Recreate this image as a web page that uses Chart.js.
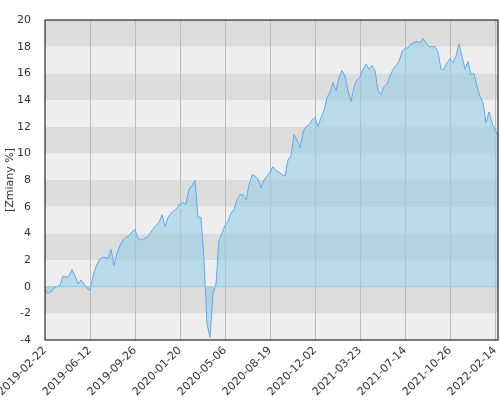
<!DOCTYPE html>
<html><head><script src="https://cdn.jsdelivr.net/npm/chart.js@4"></script>
<style>body{margin:0;background:#fff}#w{width:500px;height:400px}</style></head>
<body><div id="w"><canvas id="c"></canvas></div>
<script>
const tickDates=["2019-02-22","2019-06-12","2019-09-26","2020-01-20","2020-05-06","2020-08-19","2020-12-02","2021-03-23","2021-07-14","2021-10-26","2022-02-14"];
const values=[-0.3,-0.5,-0.4,-0.1,0.0,0.1,0.8,0.7,0.8,1.3,0.8,0.2,0.5,0.2,-0.1,-0.3,
0.8,1.5,2.0,2.2,2.2,2.1,2.8,1.6,2.5,3.1,3.5,3.7,3.8,4.1,4.3,3.6,3.5,3.6,3.7,4.0,4.3,4.6,4.8,5.4,4.5,5.2,5.5,5.7,5.9,6.2,6.3,6.2,7.3,7.6,8.0,5.2,5.2,2.0,-2.8,-3.8,-0.5,0.2,3.5,4.0,4.6,
4.9,5.5,5.8,6.5,6.9,6.9,6.5,7.6,8.4,8.3,8.1,7.4,8.0,8.3,8.6,9.0,8.7,8.6,8.4,8.3,9.5,9.8,11.4,11.0,10.4,11.6,12.0,12.1,12.5,12.7,12.0,12.7,13.2,14.2,14.6,15.3,14.7,15.7,16.2,15.8,14.7,13.9,15.0,15.5,15.7,16.3,16.7,16.3,16.6,16.2,14.7,14.4,15.0,15.2,15.8,16.3,16.6,16.9,17.6,17.9,17.9,18.2,18.3,18.4,18.3,18.6,18.3,18.0,18.0,18.0,17.6,16.3,16.3,16.8,17.1,16.8,17.3,18.2,17.3,16.3,16.9,15.9,16.0,15.0,14.3,13.8,12.3,13.1,12.3,11.7,11.4];
const labels=values.map((v,i)=>i%15===0?(tickDates[i/15]||""):"");
const bands={id:'bands',beforeDraw(ch){const {ctx,chartArea:a,scales:{y}}=ch;ctx.save();
for(let k=-2;k<10;k++){ctx.fillStyle=(Math.abs(k)%2===1)?'#dcdcdc':'#eeeeee';const t=y.getPixelForValue(2*k+2),b=y.getPixelForValue(2*k);ctx.fillRect(a.left,t,a.right-a.left,b-t);}
ctx.restore();},afterDraw(ch){const {ctx,chartArea:a,scales:{y}}=ch;ctx.save();ctx.strokeStyle='#8ccbe0';ctx.lineWidth=1;const z=y.getPixelForValue(0);ctx.beginPath();ctx.moveTo(a.left,z);ctx.lineTo(a.right,z);ctx.stroke();
ctx.strokeStyle='#000';ctx.strokeRect(a.left,a.top,a.right-a.left,a.bottom-a.top);ctx.restore();}};
new Chart(document.getElementById('c'),{type:'line',data:{labels,datasets:[{data:values,borderColor:'#5aaaf0',borderWidth:1,backgroundColor:'rgba(150,205,230,0.6)',fill:'origin',pointRadius:0,tension:0}]},
options:{responsive:true,maintainAspectRatio:false,animation:false,layout:{padding:{top:20,right:2,left:0}},
plugins:{legend:{display:false},tooltip:{enabled:false}},
scales:{x:{offset:false,grid:{color:c=>(c.index%15===0&&c.index>0&&c.index<151)?'#bbbbbb':'rgba(0,0,0,0)',drawTicks:false},border:{display:false},
ticks:{autoSkip:false,maxRotation:45,minRotation:45,color:'#333',font:{size:11,family:'DejaVu Sans'},padding:4},afterFit(s){s.height=60;s.paddingLeft=0;s.paddingRight=0;}},
y:{min:-4,max:20,grid:{display:false},border:{display:false},ticks:{stepSize:2,color:'#333',font:{size:11,family:'DejaVu Sans'},padding:6},
title:{display:true,text:'[Zmiany %]',color:'#333',font:{size:11,family:'DejaVu Sans'}},afterFit(s){s.width=45;}}}},plugins:[bands]});
</script></body></html>
